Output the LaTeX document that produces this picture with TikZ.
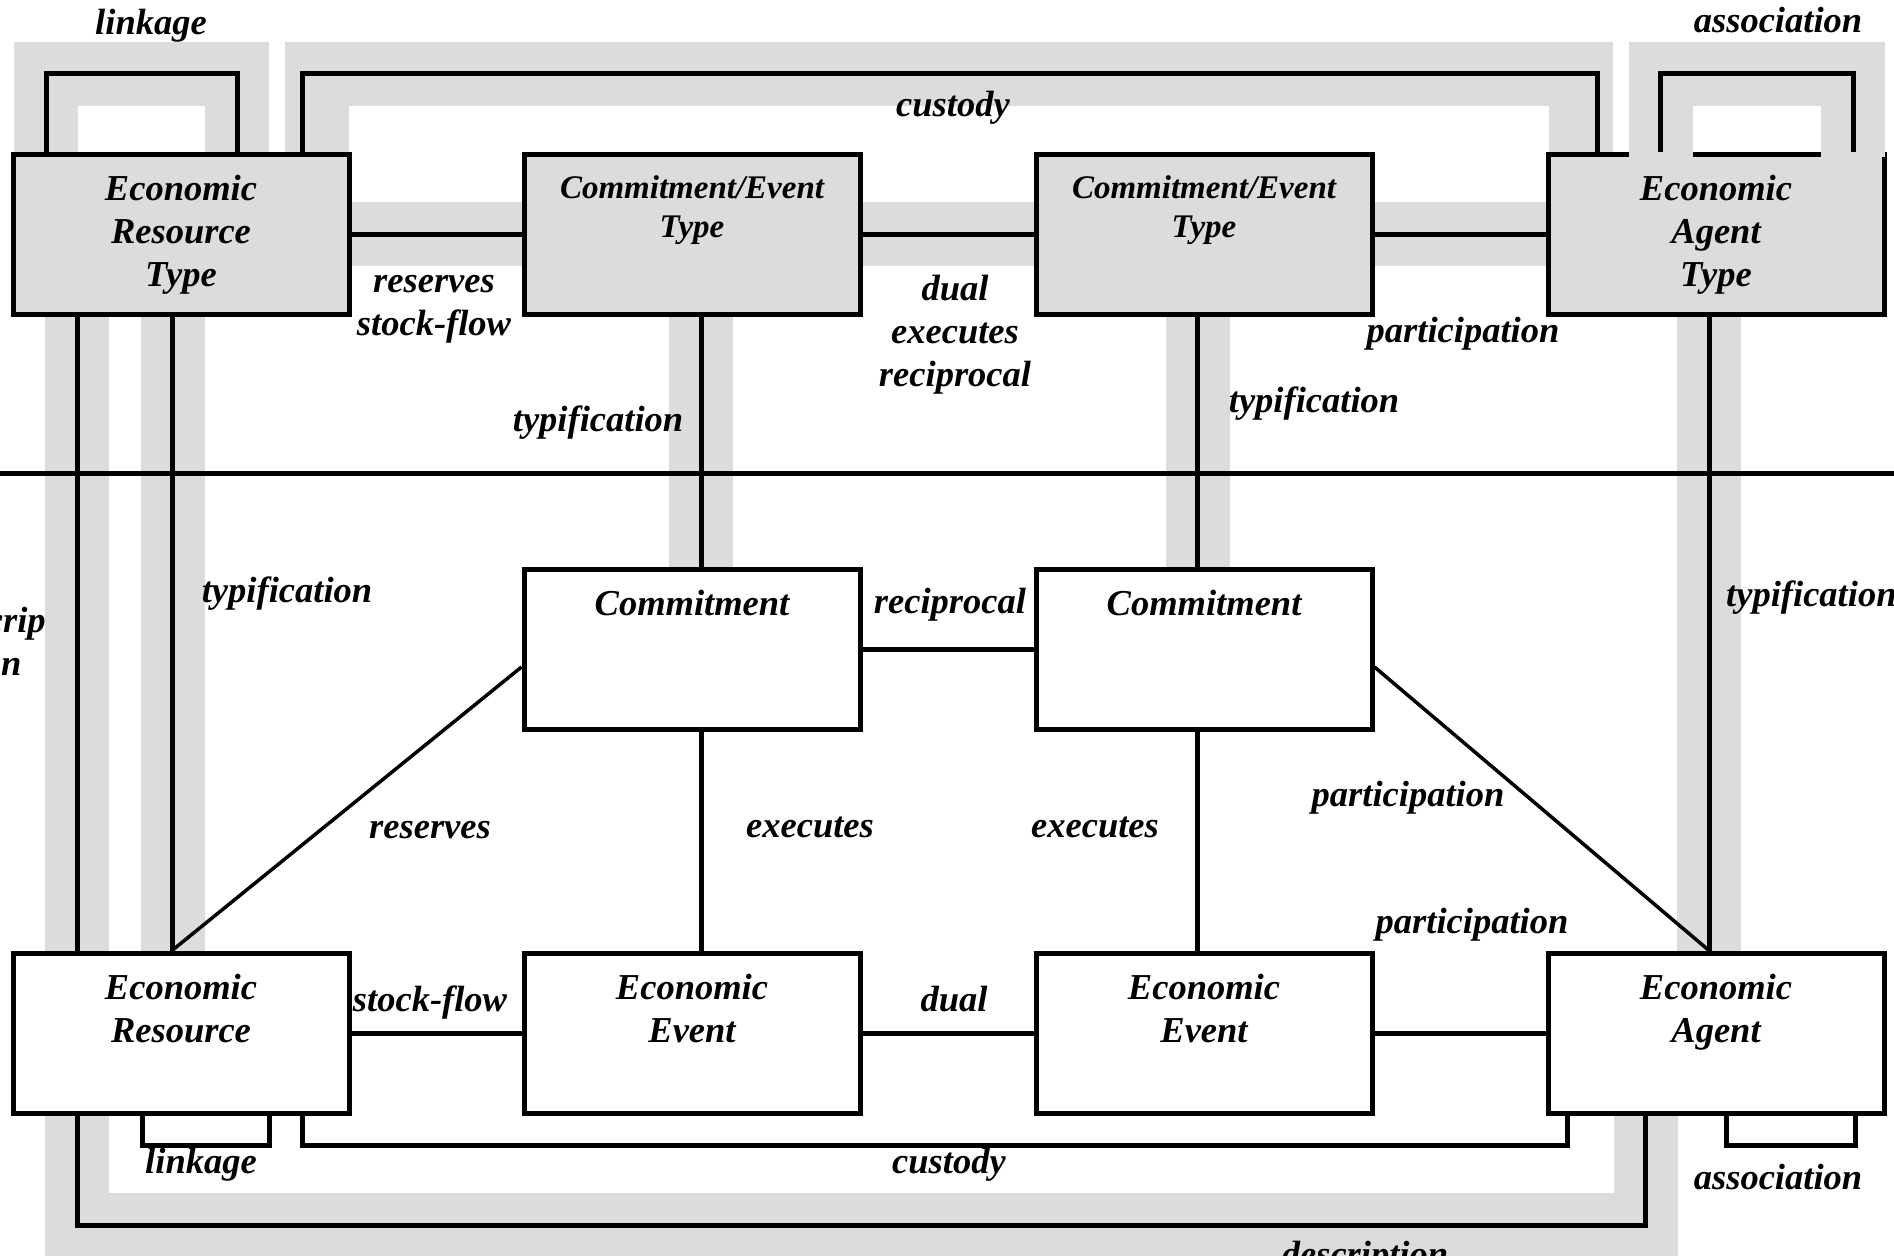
\documentclass[tikz,border=0pt]{standalone}
\usepackage{fontspec}
\setmainfont{Liberation Serif}
\usetikzlibrary{backgrounds}
\definecolor{bandgray}{RGB}{220,220,220}
\newcommand{\boxfont}{\fontsize{36.5}{43}\selectfont\bfseries\itshape}
\newcommand{\cetfont}{\fontsize{33}{39}\selectfont\bfseries\itshape}
\newcommand{\bxt}[2][46]{\parbox[c][160pt][t]{330pt}{\centering\rule{0pt}{#1pt}#2\par}}
\tikzset{
  typebox/.style={draw, line width=5pt, fill=bandgray, inner sep=0pt,
    minimum width=336pt, minimum height=160pt, font=\boxfont},
  instbox/.style={typebox, fill=white},
  conn/.style={line width=5pt},
  diag/.style={line width=3.5pt},
  band/.style={draw=bandgray, line width=64pt},
  lbl/.style={font=\boxfont, inner sep=0pt, anchor=base, align=center}
}
\begin{document}
\begin{tikzpicture}[x=1pt,y=-1pt]
\useasboundingbox (0,0) rectangle (1894,1255);
% boxes
\node[typebox] (ert) at (181,234) {\bxt{Economic\\Resource\\Type}};
\node[typebox, font=\cetfont] (cet1) at (692,234) {\bxt[44]{Commitment/Event\\Type}};
\node[typebox, font=\cetfont] (cet2) at (1204,234) {\bxt[44]{Commitment/Event\\Type}};
\node[typebox] (eat) at (1716,234) {\bxt{Economic\\Agent\\Type}};
\node[instbox] (c1) at (692,649) {\bxt{Commitment}};
\node[instbox] (c2) at (1204,649) {\bxt{Commitment}};
\node[instbox] (erb) at (181,1033) {\bxt{Economic\\Resource}};
\node[instbox] (ee1) at (692,1033) {\bxt{Economic\\Event}};
\node[instbox] (ee2) at (1204,1033) {\bxt{Economic\\Event}};
\node[instbox] (ea) at (1716,1033) {\bxt{Economic\\Agent}};
% helper coordinates
\coordinate (dvL) at (0,473); \coordinate (dvR) at (1894,473);
\coordinate (tl1) at (46,73); \coordinate (tl2) at (237,73);
\coordinate (tc1) at (302,73); \coordinate (tc2) at (1597,73);
\coordinate (ta1) at (1660,73); \coordinate (ta2) at (1853,73);
\coordinate (vA) at (77,0); \coordinate (vB) at (172,0);
\coordinate (vC) at (701,0); \coordinate (vD) at (1197,0);
\coordinate (vE) at (1709,0);
\coordinate (bl1) at (142,1145); \coordinate (bl2) at (269,1145);
\coordinate (bc1) at (302,1145); \coordinate (bc2) at (1567,1145);
\coordinate (ba1) at (1726,1145); \coordinate (ba2) at (1855,1145);
\coordinate (bd1) at (77,1225); \coordinate (bd2) at (1645,1225);
% gray bands
\begin{scope}[on background layer]
\draw[band] (45.5,154) -- (45.5,74) -- (237,74) -- (237,154);
\draw[band] (317,154) -- (317,74) -- (1581,74) -- (1581,154);
\draw[band] (349,234) -- (1548,234);
\draw[band] (77,300) -- (77,1225) -- (1645.5,1225) -- (1645.5,1100);
\draw[band] (173,300) -- (173,960);
\draw[band] (701,300) -- (701,580);
\draw[band] (1197.5,300) -- (1197.5,580);
\draw[band] (1709,300) -- (1709,960);
\end{scope}
\draw[band] (1661,157) -- (1661,74) -- (1853,74) -- (1853,157);
% divider
\draw[conn] (dvL) -- (dvR);
% top loops
\draw[conn] (ert.north -| tl1) -- (tl1) -- (tl2) -- (ert.north -| tl2);
\draw[conn] (ert.north -| tc1) -- (tc1) -- (tc2) -- (eat.north -| tc2);
\draw[conn] (eat.north -| ta1) -- (ta1) -- (ta2) -- (eat.north -| ta2);
% top connectors
\draw[conn] (ert.east) -- (cet1.west);
\draw[conn] (cet1.east) -- (cet2.west);
\draw[conn] (cet2.east) -- (eat.west);
% typification verticals
\draw[conn] (ert.south -| vA) -- (erb.north -| vA);
\draw[conn] (ert.south -| vB) -- (erb.north -| vB);
\draw[conn] (cet1.south -| vC) -- (c1.north -| vC);
\draw[conn] (cet2.south -| vD) -- (c2.north -| vD);
\draw[conn] (eat.south -| vE) -- (ea.north -| vE);
% middle
\draw[conn] (c1.east) -- (c2.west);
\draw[conn] (c1.south -| vC) -- (ee1.north -| vC);
\draw[conn] (c2.south -| vD) -- (ee2.north -| vD);
\draw[diag] ([yshift=-18pt]c1.west) -- (erb.north -| vB);
\draw[diag] ([yshift=-18pt]c2.east) -- (ea.north -| vE);
% bottom connectors
\draw[conn] (erb.east) -- (ee1.west);
\draw[conn] (ee1.east) -- (ee2.west);
\draw[conn] (ee2.east) -- (ea.west);
% bottom loops
\draw[conn] (erb.south -| bl1) -- (bl1) -- (bl2) -- (erb.south -| bl2);
\draw[conn] (erb.south -| bc1) -- (bc1) -- (bc2) -- (ea.south -| bc2);
\draw[conn] (ea.south -| ba1) -- (ba1) -- (ba2) -- (ea.south -| ba2);
\draw[conn] (erb.south -| bd1) -- (bd1) -- (bd2) -- (ea.south -| bd2);
% labels
\node[lbl] (lkT) at (151,35) {linkage};
\node[lbl] (asT) at (1778,33) {association};
\node[lbl] (cuT) at (953,116) {custody};
\node[lbl] (rsT) at (434,335) {reserves\\stock-flow};
\node[lbl] (dxT) at (955,386) {dual\\executes\\reciprocal};
\node[lbl] (paT) at (1463,342) {participation};
\node[lbl] (ty1) at (598,431) {typification};
\node[lbl] (ty2) at (1314,412) {typification};
\node[lbl] (ty3) at (287,602) {typification};
\node[lbl, anchor=base west] (ty4) at (1726,606) {typification};
\node[lbl] (dsL) at (-8,675) {descrip\\tion};
\node[lbl] (reC) at (950,613) {reciprocal};
\node[lbl] (rsM) at (430,838) {reserves};
\node[lbl] (ex1) at (810,837) {executes};
\node[lbl] (ex2) at (1095,837) {executes};
\node[lbl] (paM) at (1408,806) {participation};
\node[lbl] (paB) at (1472,933) {participation};
\node[lbl] (sfB) at (430,1011) {stock-flow};
\node[lbl] (duB) at (954,1011) {dual};
\node[lbl] (lkB) at (201,1173) {linkage};
\node[lbl] (cuB) at (949,1173) {custody};
\node[lbl] (asB) at (1778,1189) {association};
\node[lbl] (dsB) at (1365,1266) {description};
\end{tikzpicture}
\end{document}
